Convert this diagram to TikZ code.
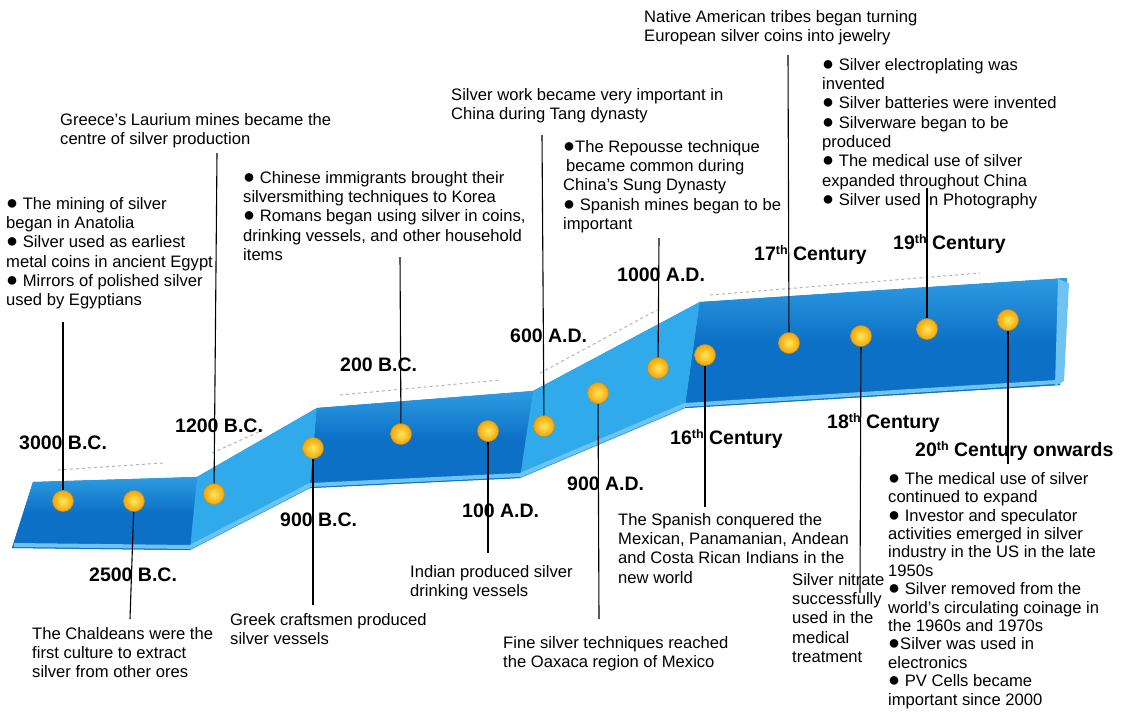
\documentclass[tikz,border=0pt]{standalone}
\usepackage{fontspec}
\setmainfont{Liberation Sans}
\usetikzlibrary{positioning}
\definecolor{bandA}{RGB}{45,155,225}
\definecolor{bandB}{RGB}{12,112,198}
\definecolor{bandrise}{RGB}{48,170,235}
\definecolor{bandlip}{RGB}{110,195,242}
\definecolor{dotin}{RGB}{255,232,90}
\definecolor{dotout}{RGB}{245,165,10}
\definecolor{trail}{RGB}{185,175,180}
\newcommand{\cth}{\raisebox{5.5pt}{\fontsize{12.5}{12}\selectfont th}}
\newcommand{\blt}{\scalebox{1.2}{●}}

\begin{document}
\begin{tikzpicture}[x=1pt,y=-1pt,
  dot/.style={circle,minimum size=21pt,inner sep=0pt,draw=dotout!85!black,line width=0.5pt,inner color=dotin,outer color=dotout},
  txt/.style={anchor=north west,inner sep=0pt,align=left,font=\fontsize{16.6}{19.3}\selectfont},
  lbl/.style={anchor=base west,inner sep=0pt,font=\fontsize{19.5}{22}\selectfont\bfseries},
  link/.style={draw=black,line width=1.1pt},
  flat/.style={top color=bandA,bottom color=bandB,middle color=bandB},
  rise/.style={fill=bandrise}]
\useasboundingbox (0,0) rectangle (1123,721);

\fill[bandB] (33,482)--(197,477)--(317,408)--(533,391)--(700,302)--(1067,278)--(1060,385)--(685,408)--(520,478)--(310,488)--(190,550)--(12,548)--cycle;
\path[flat] (33,482)--(197,477)--(190,550)--(12,548)--cycle;
\path[rise] (197,477)--(317,408)--(310,488)--(190,550)--cycle;
\path[flat] (317,408)--(533,391)--(520,478)--(310,488)--cycle;
\path[rise] (533,391)--(700,302)--(685,408)--(520,478)--cycle;
\path[flat] (700,302)--(1067,278)--(1060,385)--(685,408)--cycle;
\fill[bandlip] (1058,279)--(1069,283)--(1064,381)--(1055,386)--cycle;
\draw[bandlip,line width=4pt,line join=round] (14,545)--(190,547)--(310,485)--(520,475)--(685,405)--(1056,382);

\draw[trail,dashed,line width=1pt] (58,470)--(163,463);
\draw[trail,dashed,line width=1pt] (212,453)--(263,430);
\draw[trail,dashed,line width=1pt] (340,395)--(500,380);
\draw[trail,dashed,line width=1pt] (540,373)--(657,310);
\draw[trail,dashed,line width=1pt] (710,295)--(980,273);

\node[dot](d3000) at (63,501) {};
\node[dot](d2500) at (134,501) {};
\node[dot](d1200) at (214,494) {};
\node[dot](d900bc) at (313,448) {};
\node[dot](d200bc) at (401,434) {};
\node[dot](d100ad) at (488,431) {};
\node[dot](d600ad) at (544,426) {};
\node[dot](d900ad) at (598,393) {};
\node[dot](d1000ad) at (658,368) {};
\node[dot](d16) at (705,355) {};
\node[dot](d17) at (789,343) {};
\node[dot](d18) at (861,336) {};
\node[dot](d19) at (927,329) {};
\node[dot](d20) at (1008,320) {};

\node[lbl](l3000) at (19,449) {3000 B.C.};
\node[lbl](l2500) at (89,581) {2500 B.C.};
\node[lbl](l1200) at (175,432) {1200 B.C.};
\node[lbl](l900bc) at (280,526) {900 B.C.};
\node[lbl](l200bc) at (340,371) {200 B.C.};
\node[lbl](l100ad) at (462,517) {100 A.D.};
\node[lbl](l600ad) at (510,342) {600 A.D.};
\node[lbl](l900ad) at (567,490) {900 A.D.};
\node[lbl](l1000ad) at (617,281) {1000 A.D.};
\node[lbl](l16) at (670,444) {16\cth\ Century};
\node[lbl](l17) at (754,260) {17\cth\ Century};
\node[lbl](l18) at (827,428) {18\cth\ Century};
\node[lbl](l19) at (893,249) {19\cth\ Century};
\node[lbl](l20) at (915,456) {20\cth\ Century onwards};

\node[txt](t3000) at (6,197) {\blt\ The mining of silver\\began in Anatolia\\\blt\ Silver used as earliest\\metal coins in ancient Egypt\\\blt\ Mirrors of polished silver\\used by Egyptians};
\node[txt](t1200) at (60,113) {Greece’s Laurium mines became the\\centre of silver production};
\node[txt](t200bc) at (243,171) {\blt\ Chinese immigrants brought their\\silversmithing techniques to Korea\\\blt\ Romans began using silver in coins,\\drinking vessels, and other household\\items};
\node[txt](t600ad) at (451,88) {Silver work became very important in\\China during Tang dynasty};
\node[txt](t1000ad) at (563,140) {\blt The Repousse technique\\\hspace{3pt}became common during\\China’s Sung Dynasty\\\blt\ Spanish mines began to be\\important};
\node[txt](t17) at (644,10) {Native American tribes began turning\\European silver coins into jewelry};
\node[txt](t19) at (822,58) {\blt\ Silver electroplating was\\invented\\\blt\ Silver batteries were invented\\\blt\ Silverware began to be\\produced\\\blt\ The medical use of silver\\expanded throughout China\\\blt\ Silver used in Photography};
\node[txt](t2500) at (32,627) {The Chaldeans were the\\first culture to extract\\silver from other ores};
\node[txt](t900bc) at (230,613) {Greek craftsmen produced\\silver vessels};
\node[txt](t100ad) at (410,565) {Indian produced silver\\drinking vessels};
\node[txt](t900ad) at (503,636) {Fine silver techniques reached\\the Oaxaca region of Mexico};
\node[txt](t16) at (618,513) {The Spanish conquered the\\Mexican, Panamanian, Andean\\and Costa Rican Indians in the\\new world};
\node[txt](t18) at (792,573) {Silver nitrate\\successfully\\used in the\\medical\\treatment};
\node[txt,font=\fontsize{16.6}{18.4}\selectfont](t20) at (888,472) {\blt\ The medical use of silver\\continued to expand\\\blt\ Investor and speculator\\activities emerged in silver\\industry in the US in the late\\1950s\\\blt\ Silver removed from the\\world’s circulating coinage in\\the 1960s and 1970s\\\blt Silver was used in\\electronics\\\blt\ PV Cells became\\important since 2000};

\coordinate (e3000) at (63,322);
\coordinate (e2500) at (130,619);
\coordinate (e1200) at (217,153);
\coordinate (e900bc) at (313,605);
\coordinate (e200bc) at (400,257);
\coordinate (e100ad) at (488,553);
\coordinate (e600ad) at (542,135);
\coordinate (e900ad) at (599,619);
\coordinate (e1000ad) at (659,238);
\coordinate (e16) at (705,507);
\coordinate (e17) at (788,55);
\coordinate (e18) at (860,593);
\coordinate (e19) at (927,188);
\coordinate (e20) at (1008,464);

\path (d3000) edge[link] (e3000);
\path (d2500) edge[link] (e2500);
\path (d1200) edge[link] (e1200);
\path (d900bc) edge[link] (e900bc);
\path (d200bc) edge[link] (e200bc);
\path (d100ad) edge[link] (e100ad);
\path (d600ad) edge[link] (e600ad);
\path (d900ad) edge[link] (e900ad);
\path (d1000ad) edge[link] (e1000ad);
\path (d16) edge[link] (e16);
\path (d17) edge[link] (e17);
\path (d18) edge[link] (e18);
\path (d19) edge[link] (e19);
\path (d20) edge[link] (e20);
\end{tikzpicture}
\end{document}
